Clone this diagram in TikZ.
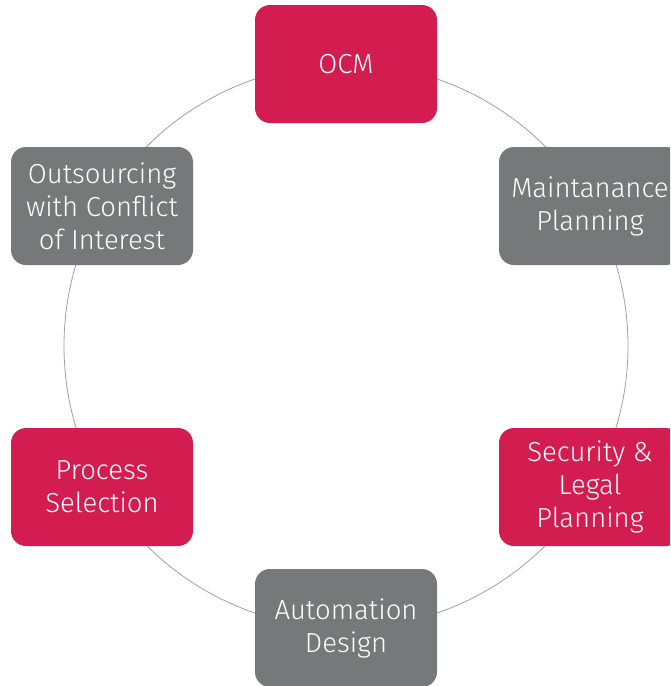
\documentclass[tikz,border=0pt]{standalone}
\usepackage{fontspec}
\setmainfont{Fira Sans Light}
\definecolor{crimson}{HTML}{D31D50}
\definecolor{slate}{HTML}{77787A}
\definecolor{ring}{HTML}{A0A0A0}
\tikzset{
  stage/.style={rounded corners=15pt, minimum width=182pt, minimum height=118pt,
    text=white, align=center, font=\fontsize{27.5}{33}\selectfont, inner sep=0pt},
  hot/.style={stage, fill=crimson},
  cold/.style={stage, fill=slate}
}
\begin{document}
\begin{tikzpicture}[x=1pt,y=-1pt]
  \clip (0,0) rectangle (670,686);
  \useasboundingbox (0,0) rectangle (670,686);
  % the ring behind the stages
  \draw[ring, line width=0.8pt] (346,346) circle[radius=282pt];
  \node[hot]  (ocm)      at (346,64)  {OCM};
  \node[cold] (maint)    at (590,206) {Maintanance\\Planning};
  \node[hot]  (security) at (590,487) {Security \&\\Legal\\Planning};
  \node[cold] (auto)     at (346,628) {Automation\\Design};
  \node[hot]  (process)  at (102,487) {Process\\Selection};
  \node[cold] (outsrc)   at (102,206) {Outsourcing\\with Conflict\\of Interest};
\end{tikzpicture}
\end{document}
